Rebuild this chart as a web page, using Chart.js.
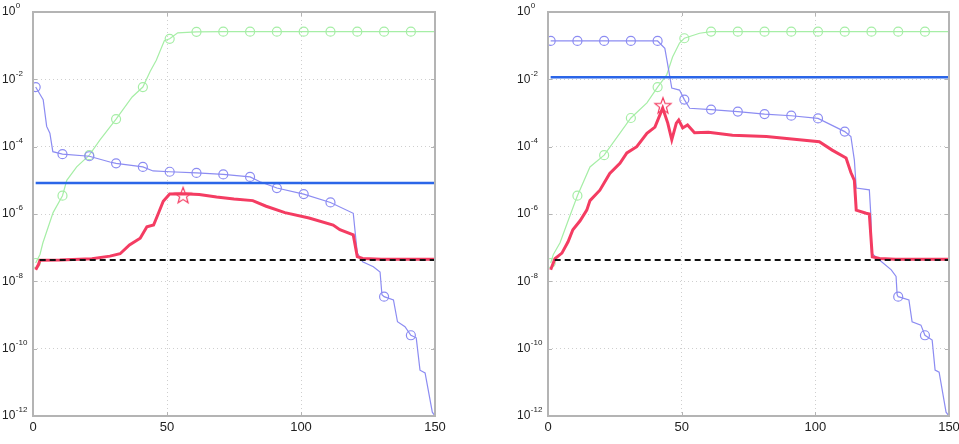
<!DOCTYPE html>
<html>
<head>
<meta charset="utf-8">
<script src="https://cdn.jsdelivr.net/npm/chart.js@4.4.1/dist/chart.umd.min.js"></script>
<style>
  html, body { margin: 0; padding: 0; background: #fff; }
  .panel { position: absolute; top: 0; height: 444px; }
  #left-panel { left: 0; width: 479px; }
  #right-panel { left: 479px; width: 480px; }
</style>
</head>
<body>
<div class="panel" id="left-panel"><canvas id="left-chart"></canvas></div>
<div class="panel" id="right-panel"><canvas id="right-chart"></canvas></div>
<script>
// Axis ticks
const xTicks = [0, 50, 100, 150];
const yTicks = [1, 1e-2, 1e-4, 1e-6, 1e-8, 1e-10, 1e-12];

// Iterations that carry a circle marker
const greenMarkerX = [1, 11, 21, 31, 41, 51, 61, 71, 81, 91, 101, 111, 121, 131, 141];
const violetMarkerX = [1, 11, 21, 31, 41, 51, 61, 71, 81, 91, 101, 111, 131, 141];

// Left panel
const leftGreenX = [1, 2.6, 3.7, 7.5, 11, 12.6, 16.3, 21, 25, 31, 37, 41, 43.7, 46, 49, 51, 54, 61, 71, 81, 91, 101, 111, 121, 131, 141, 150];
const leftGreenY = [3.5e-8, 6.3e-8, 1.4e-7, 1.1e-6, 3.5e-6, 1.0e-5, 2.5e-5, 5.6e-5, 1.6e-4, 6.6e-4, 3.0e-3, 5.9e-3, 1.7e-2, 3.7e-2, 0.14, 0.16, 0.24, 0.257, 0.26, 0.26, 0.26, 0.26, 0.26, 0.26, 0.26, 0.26, 0.26];

const leftVioletX = [1, 3.2, 3.8, 5.1, 6.3, 7.4, 11, 21, 28.7, 31, 41, 44.8, 51, 61, 71, 81, 84.7, 91, 101, 111, 119.5, 121, 123, 127, 129.5, 130.2, 131, 134.5, 136, 138.8, 141, 143, 144.4, 146.3, 149, 150];
const leftVioletY = [5.9e-3, 3.0e-3, 2.5e-3, 4.0e-4, 2.5e-4, 7.1e-5, 6.0e-5, 5.2e-5, 3.5e-5, 3.2e-5, 2.5e-5, 1.9e-5, 1.8e-5, 1.66e-5, 1.5e-5, 1.26e-5, 9.1e-6, 5.9e-6, 3.9e-6, 2.2e-6, 1.05e-6, 6.9e-8, 3.8e-8, 2.7e-8, 1.9e-8, 4.0e-9, 3.5e-9, 2.8e-9, 6.3e-10, 4.5e-10, 2.5e-10, 2.1e-10, 2.3e-11, 1.9e-11, 1.3e-12, 1e-12];

const leftRedX = [1, 2, 2.6, 10, 22, 28.7, 32.5, 36, 40, 42.5, 45, 46.8, 48.6, 51, 56, 62, 68.5, 75, 82, 87, 94, 103, 112, 114.5, 119.5, 121, 123, 130, 150];
const leftRedY = [2.2e-8, 3.1e-8, 4.2e-8, 4.3e-8, 4.7e-8, 5.6e-8, 6.6e-8, 1.2e-7, 1.9e-7, 4.2e-7, 4.7e-7, 1.05e-6, 2.4e-6, 3.9e-6, 4.0e-6, 3.8e-6, 3.2e-6, 2.8e-6, 2.5e-6, 1.7e-6, 1.1e-6, 7.6e-7, 4.7e-7, 3.4e-7, 2.4e-7, 5.4e-8, 4.8e-8, 4.5e-8, 4.5e-8];

const leftStar = { x: 56, y: 3.7e-6 };
const leftBlueLevel = 8.3e-6;

// Right panel
const rightGreenX = [1, 2, 4.5, 8, 11, 15.7, 21, 24.3, 31, 37, 41, 44.4, 46.6, 49.2, 51, 56.7, 61, 71, 81, 91, 101, 111, 121, 131, 141, 150];
const rightGreenY = [3.5e-8, 6.3e-8, 1.4e-7, 8.0e-7, 3.5e-6, 2.5e-5, 5.6e-5, 1.3e-4, 7.1e-4, 2.0e-3, 5.9e-3, 1.35e-2, 4.6e-2, 0.12, 0.166, 0.234, 0.262, 0.26, 0.26, 0.26, 0.26, 0.26, 0.26, 0.26, 0.26, 0.26];

const rightVioletX = [1, 11, 21, 31, 41, 43.7, 44.8, 46.3, 49.2, 51, 53, 61, 71, 81, 91, 101, 111, 113.3, 114.6, 115.3, 120.2, 120.8, 121, 124, 128.4, 130.2, 130.6, 131, 135, 136.2, 139.5, 141, 143.7, 144.8, 146.3, 148.9, 150];
const rightVioletY = [0.138, 0.138, 0.138, 0.138, 0.138, 8.3e-2, 2.7e-2, 5.5e-3, 4.8e-3, 2.5e-3, 1.38e-3, 1.26e-3, 1.1e-3, 9.3e-4, 8.3e-4, 6.9e-4, 2.8e-4, 2.0e-4, 4.0e-5, 5.9e-6, 5.2e-6, 8.3e-7, 6.9e-8, 4.3e-8, 2.2e-8, 1.4e-8, 4.0e-9, 3.5e-9, 2.8e-9, 6.3e-10, 5.0e-10, 2.5e-10, 1.8e-10, 2.3e-11, 2.0e-11, 1.3e-12, 1e-12];

const rightRedX = [1, 2.6, 5.2, 7.5, 9.3, 12, 14.5, 15.7, 19.4, 23.1, 26.9, 29.5, 33.2, 37, 40, 42.9, 44.8, 46.3, 48, 48.9, 50.4, 52.2, 54.8, 60, 69, 81.7, 94, 101.5, 106.3, 111.5, 113.3, 114.6, 115.3, 119, 120.2, 121.3, 124, 130, 150];
const rightRedY = [2.2e-8, 4.7e-8, 6.9e-8, 1.5e-7, 3.4e-7, 6.3e-7, 1.3e-6, 2.5e-6, 5.1e-6, 1.6e-5, 3.2e-5, 6.5e-5, 1.0e-4, 2.5e-4, 3.8e-4, 1.4e-3, 5.0e-4, 1.6e-4, 5.0e-4, 6.2e-4, 3.6e-4, 4.4e-4, 2.6e-4, 2.7e-4, 2.2e-4, 2.0e-4, 1.6e-4, 1.4e-4, 7.9e-5, 4.6e-5, 1.7e-5, 1.0e-5, 1.3e-6, 1.05e-6, 1.0e-6, 5.4e-8, 4.8e-8, 4.5e-8, 4.5e-8];

const rightStar = { x: 43, y: 1.7e-3 };
const rightBlueLevel = 1.15e-2;

// Shared
const dashedLevel = 4.3e-8;
const levelRange = [1, 150];
const dashedRange = [2.5, 150];

const COLORS = {
  green: '#a6eea6',
  violet: '#8c8cf2',
  blue: '#2b66e8',
  red: '#f43c62',
  dashed: '#111111',
  grid: '#cfcfcf',
  frame: '#b4b4b4',
  text: '#222222',
};

Chart.defaults.font.family = '"Liberation Sans", Arial, sans-serif';
Chart.defaults.color = COLORS.text;

function toPoints(xs, ys) {
  return xs.map((x, i) => ({ x, y: ys[i] }));
}

// Outline star used as point style
function makeStar(color) {
  const size = 20;
  const c = document.createElement('canvas');
  c.width = size;
  c.height = size;
  const g = c.getContext('2d');
  const cx = size / 2;
  const cy = size / 2 + 1;
  g.beginPath();
  for (let i = 0; i < 10; i += 1) {
    const r = i % 2 === 0 ? 8.5 : 3.6;
    const a = -Math.PI / 2 + (i * Math.PI) / 5;
    const px = cx + r * Math.cos(a);
    const py = cy + r * Math.sin(a);
    if (i === 0) g.moveTo(px, py); else g.lineTo(px, py);
  }
  g.closePath();
  g.strokeStyle = color;
  g.lineWidth = 1.2;
  g.stroke();
  return c;
}
const starImage = makeStar(COLORS.red);

const markerRadius = (list) => (ctx) => (ctx.raw && list.includes(ctx.raw.x) ? 4.5 : 0);

// Frame, inward tick marks and 10^n labels (MATLAB look)
const framePlugin = {
  id: 'frame',
  afterDraw(chart) {
    const { ctx, chartArea: a, scales: { x, y } } = chart;
    ctx.save();
    ctx.strokeStyle = COLORS.frame;
    ctx.lineWidth = 2;
    ctx.strokeRect(a.left, a.top, a.right - a.left, a.bottom - a.top);

    ctx.lineWidth = 1;
    ctx.beginPath();
    x.ticks.forEach((t) => {
      const px = Math.round(x.getPixelForValue(t.value)) + 0.5;
      ctx.moveTo(px, a.bottom); ctx.lineTo(px, a.bottom - 4);
      ctx.moveTo(px, a.top); ctx.lineTo(px, a.top + 4);
    });
    y.ticks.forEach((t) => {
      const py = Math.round(y.getPixelForValue(t.value)) + 0.5;
      ctx.moveTo(a.left, py); ctx.lineTo(a.left + 4, py);
      ctx.moveTo(a.right, py); ctx.lineTo(a.right - 4, py);
    });
    ctx.stroke();

    ctx.fillStyle = COLORS.text;
    ctx.textAlign = 'left';
    ctx.textBaseline = 'middle';
    y.ticks.forEach((t) => {
      const py = y.getPixelForValue(t.value);
      const exp = Math.round(Math.log10(t.value));
      const lx = a.left - 31;
      ctx.font = '12px "Liberation Sans", Arial, sans-serif';
      ctx.fillText('10', lx, py);
      const w = ctx.measureText('10').width;
      ctx.font = '8px "Liberation Sans", Arial, sans-serif';
      ctx.fillText(String(exp), lx + w + 0.5, py - 6);
    });
    ctx.restore();
  },
};

function createPanel(canvasId, d, leftPad, rightPad) {
  const canvas = document.getElementById(canvasId);
  const datasets = [
    {
      // star marking the peak
      data: [d.star],
      showLine: false,
      pointStyle: starImage,
      pointRadius: 9,
    },
    {
      data: toPoints(dashedRange, [dashedLevel, dashedLevel]),
      borderColor: COLORS.dashed,
      borderWidth: 2,
      borderDash: [6, 4],
      pointRadius: 0,
    },
    {
      data: toPoints(d.redX, d.redY),
      borderColor: COLORS.red,
      borderWidth: 3,
      pointRadius: 0,
    },
    {
      data: toPoints(levelRange, [d.blueLevel, d.blueLevel]),
      borderColor: COLORS.blue,
      borderWidth: 2.5,
      pointRadius: 0,
    },
    {
      data: toPoints(d.violetX, d.violetY),
      borderColor: COLORS.violet,
      borderWidth: 1.2,
      pointRadius: markerRadius(violetMarkerX),
      pointBorderColor: COLORS.violet,
      pointBackgroundColor: 'rgba(0,0,0,0)',
      pointBorderWidth: 1.2,
    },
    {
      data: toPoints(d.greenX, d.greenY),
      borderColor: COLORS.green,
      borderWidth: 1.2,
      pointRadius: markerRadius(greenMarkerX),
      pointBorderColor: COLORS.green,
      pointBackgroundColor: 'rgba(0,0,0,0)',
      pointBorderWidth: 1.2,
    },
  ];

  return new Chart(canvas.getContext('2d'), {
    type: 'line',
    data: { datasets },
    options: {
      responsive: true,
      maintainAspectRatio: false,
      animation: false,
      events: [],
      layout: { padding: { left: leftPad, right: rightPad, top: 12, bottom: 0 } },
      plugins: { legend: { display: false }, tooltip: { enabled: false } },
      elements: { line: { tension: 0 } },
      scales: {
        x: {
          type: 'linear',
          min: 0,
          max: 150,
          afterBuildTicks: (s) => { s.ticks = xTicks.map((v) => ({ value: v })); },
          afterFit: (s) => { s.height = 28; s.paddingLeft = 0; s.paddingRight = 0; },
          ticks: { font: { size: 13 }, padding: 4, maxRotation: 0 },
          grid: { color: COLORS.grid, drawTicks: false },
          border: { display: false, dash: [1, 3] },
        },
        y: {
          type: 'logarithmic',
          min: 1e-12,
          max: 1,
          afterBuildTicks: (s) => { s.ticks = yTicks.map((v) => ({ value: v })); },
          afterFit: (s) => { s.width = 33; },
          ticks: { display: false },
          grid: { color: COLORS.grid, drawTicks: false },
          border: { display: false, dash: [1, 3] },
        },
      },
    },
    plugins: [framePlugin],
  });
}

createPanel('left-chart', {
  greenX: leftGreenX, greenY: leftGreenY,
  violetX: leftVioletX, violetY: leftVioletY,
  redX: leftRedX, redY: leftRedY,
  star: leftStar, blueLevel: leftBlueLevel,
}, 0, 44);

createPanel('right-chart', {
  greenX: rightGreenX, greenY: rightGreenY,
  violetX: rightVioletX, violetY: rightVioletY,
  redX: rightRedX, redY: rightRedY,
  star: rightStar, blueLevel: rightBlueLevel,
}, 36, 9);
</script>
</body>
</html>
